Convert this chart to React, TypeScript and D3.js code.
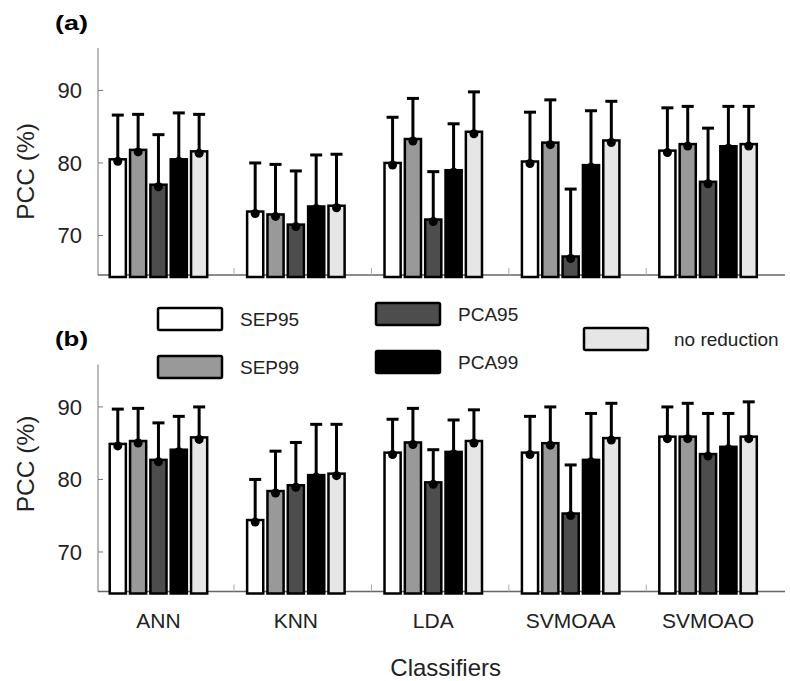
import React from 'react';
import * as d3 from 'd3';

const categories = ['ANN', 'KNN', 'LDA', 'SVMOAA', 'SVMOAO'];
const methods = ['SEP95', 'SEP99', 'PCA95', 'PCA99', 'no reduction'];
const yTicks = [70, 80, 90];
const xMinorTicks = [1.55, 2.55, 3.55, 4.55];

// panel (a) means and error (upper) per method, across classifiers
const meanA = [
  [80.5, 73.3, 80.0, 80.2, 81.7],
  [81.8, 72.9, 83.3, 82.8, 82.6],
  [77.0, 71.5, 72.2, 67.1, 77.4],
  [80.5, 74.0, 79.0, 79.7, 82.3],
  [81.6, 74.1, 84.3, 83.1, 82.6]
];
const errA = [
  [6.1, 6.7, 6.3, 6.8, 5.9],
  [4.9, 6.9, 5.6, 5.9, 5.2],
  [6.9, 7.4, 6.6, 9.3, 7.4],
  [6.4, 7.1, 6.4, 7.5, 5.5],
  [5.1, 7.1, 5.5, 5.4, 5.2]
];

// panel (b)
const meanB = [
  [84.9, 74.4, 83.7, 83.7, 85.9],
  [85.3, 78.4, 85.1, 85.0, 85.9],
  [82.7, 79.2, 79.6, 75.3, 83.5],
  [84.1, 80.6, 83.8, 82.7, 84.5],
  [85.8, 80.8, 85.3, 85.7, 85.9]
];
const errB = [
  [4.8, 5.6, 4.6, 5.0, 4.1],
  [4.5, 5.5, 4.7, 5.0, 4.6],
  [5.1, 5.9, 4.5, 6.7, 5.6],
  [4.6, 7.0, 4.4, 6.4, 4.6],
  [4.2, 6.8, 4.3, 4.8, 4.8]
];

const fills = ['#ffffff', '#999999', '#4d4d4d', '#000000', '#e6e6e6'];

// legend layout (box x, box y, text x)
const legendPos = [
  { x: 158, y: 308, tx: 240 },
  { x: 158, y: 356, tx: 240 },
  { x: 376, y: 303, tx: 458 },
  { x: 376, y: 351, tx: 458 },
  { x: 584, y: 328, tx: 674 }
];

const W = 790;
const H = 681;
const left = 98;
const right = 785;
const panelH = 227;
const font = '"Liberation Sans", Arial, Helvetica, sans-serif';

const x = d3.scaleLinear().domain([0.56, 5.56]).range([left, right]);
const barStep = x(1.148) - x(1); // width slot of each bar in px
const barW = barStep - 4.2;

const Panel = ({ top, means, errs, tag, labelY }) => {
  const y = d3.scaleLinear().domain([64.55, 95.85]).range([top + panelH, top]);
  const base = top + panelH;
  return (
    <g>
      <text x={55} y={top - 18.5} style={{ fontSize: 20, fontWeight: 'bold' }} textLength={33} lengthAdjust="spacingAndGlyphs">
        {tag}
      </text>
      {/* y axis */}
      <line x1={left} x2={left} y1={top} y2={base} stroke="#777" strokeWidth={1} />
      {yTicks.map(t => (
        <g key={t}>
          <line x1={left} x2={left + 5} y1={y(t)} y2={y(t)} stroke="#777" strokeWidth={1} />
          <text x={82} y={y(t)} dy="0.35em" textAnchor="end" style={{ fontSize: 22 }} fill="#222">
            {t}
          </text>
        </g>
      ))}
      <text
        transform={`translate(33.5, ${labelY}) rotate(-90)`}
        textAnchor="middle"
        style={{ fontSize: 24.5 }}
        fill="#222"
      >
        PCC (%)
      </text>
      {/* x axis */}
      <line x1={left} x2={right} y1={base} y2={base} stroke="#666" strokeWidth={1.5} />
      {xMinorTicks.map(t => (
        <line key={t} x1={x(t)} x2={x(t)} y1={base} y2={base - 7} stroke="#aaa" strokeWidth={1} />
      ))}
      {/* bars */}
      {categories.map((c, ci) => (
        <g key={c}>
          {methods.map((m, mi) => {
            const cx = x(ci + 1) + (mi - 2) * barStep;
            const v = means[mi][ci];
            return (
              <rect
                key={m}
                x={cx - barW / 2}
                y={y(v)}
                width={barW}
                height={base + 2 - y(v)}
                fill={fills[mi]}
                stroke="#000"
                strokeWidth={2.5}
              />
            );
          })}
          {methods.map((m, mi) => {
            const cx = x(ci + 1) + (mi - 2) * barStep;
            const v = means[mi][ci];
            const e = v + errs[mi][ci];
            return (
              <g key={m + '-err'}>
                <line x1={cx} x2={cx} y1={y(v)} y2={y(e)} stroke="#000" strokeWidth={3} />
                <line x1={cx - 6} x2={cx + 6} y1={y(e)} y2={y(e)} stroke="#000" strokeWidth={3} />
                <circle cx={cx} cy={y(v) + 2} r={4.5} fill="#000" />
              </g>
            );
          })}
        </g>
      ))}
    </g>
  );
};

const App = () => {
  return (
    <svg
      width={W}
      height={H}
      viewBox={`0 0 ${W} ${H}`}
      style={{ position: 'absolute', left: 0, top: 0, fontFamily: font, background: '#fff' }}
    >
      <rect width={W} height={H} fill="#fff" />
      <Panel top={48} means={meanA} errs={errA} tag="(a)" labelY={171.5} />
      <Panel top={364.5} means={meanB} errs={errB} tag="(b)" labelY={464} />

      {/* legend */}
      {methods.map((m, i) => (
        <g key={m}>
          <rect
            x={legendPos[i].x}
            y={legendPos[i].y}
            width={64}
            height={22}
            rx={1.5}
            fill={fills[i]}
            stroke="#000"
            strokeWidth={2.5}
          />
          <text x={legendPos[i].tx} y={legendPos[i].y + 11} dy="0.35em" style={{ fontSize: 19 }} fill="#222">
            {m}
          </text>
        </g>
      ))}

      {/* category labels */}
      {categories.map((c, ci) => (
        <text key={c} x={x(ci + 1)} y={628} textAnchor="middle" style={{ fontSize: 21 }} fill="#222">
          {c}
        </text>
      ))}
      <text x={445.7} y={676} textAnchor="middle" style={{ fontSize: 24 }} fill="#222">
        Classifiers
      </text>
    </svg>
  );
};

export default App;
